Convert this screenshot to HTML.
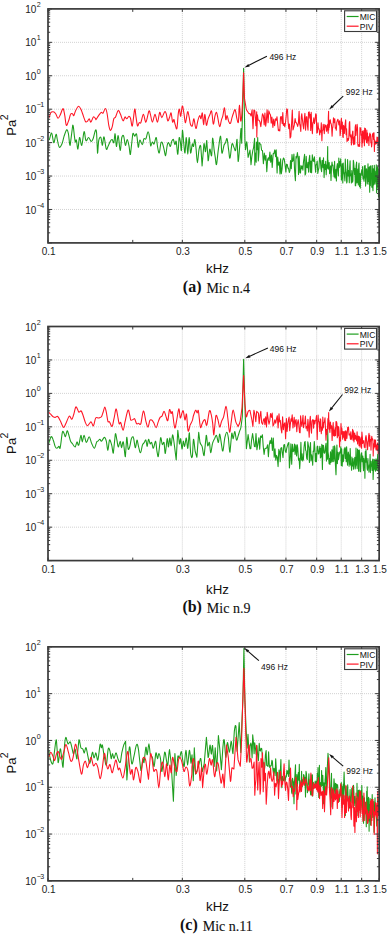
<!DOCTYPE html>
<html><head><meta charset="utf-8"><style>
html,body{margin:0;padding:0;background:#fff;width:388px;height:934px;overflow:hidden}
svg{font-family:"Liberation Sans",sans-serif}
</style></head><body>
<svg width="388" height="934" viewBox="0 0 388 934" style="position:absolute;left:0;top:0">
<rect width="388" height="934" fill="#fff"/>
<path d="M48.0,209.47H379.1M48.0,176.04H379.1M48.0,142.61H379.1M48.0,109.19H379.1M48.0,75.76H379.1M48.0,42.33H379.1M182.34,8.9V242.9M244.81,8.9V242.9M285.95,8.9V242.9M316.68,8.9V242.9M341.22,8.9V242.9M361.65,8.9V242.9" stroke="#c6c6c6" stroke-width="0.9" stroke-dasharray="0.9,1.1" fill="none"/>
<clipPath id="c0"><rect x="48.0" y="8.9" width="331.15" height="234.0"/></clipPath>
<path clip-path="url(#c0)" d="M49.3,140.1C49.7,138.9 50.9,132.6 51.6,133.0C52.4,133.4 53.1,142.5 53.8,142.7C54.5,142.9 55.4,134.8 56.0,134.3C56.6,133.8 56.8,137.3 57.3,139.5C57.8,141.7 58.5,146.4 59.3,147.2C60.1,147.9 61.1,145.8 61.9,144.0C62.7,142.2 63.3,138.6 64.1,136.2C64.9,133.8 66.0,130.2 66.7,129.8C67.4,129.4 67.8,131.1 68.4,133.7C69.0,136.3 69.5,146.7 70.2,145.3L72.7,125.3C73.4,123.8 74.0,133.4 74.4,136.2C74.8,139.0 75.0,141.3 75.3,142.0C75.6,142.7 76.0,138.9 76.4,140.1C76.8,141.3 77.4,149.5 77.9,149.1C78.4,148.7 78.9,138.1 79.6,137.5C80.2,136.9 81.0,146.3 81.8,145.3C82.5,144.3 83.4,132.5 84.1,131.7C84.8,130.9 85.2,139.7 86.0,140.7C86.8,141.7 87.7,137.4 88.6,137.5C89.5,137.6 90.5,141.2 91.2,141.4C92.0,141.6 92.4,140.6 93.1,138.8C93.8,137.0 94.8,131.4 95.4,130.4C96.0,129.4 96.2,129.2 96.6,133.0L97.5,153.0C97.9,154.2 98.2,142.7 98.8,140.1C99.4,137.5 100.3,136.6 100.9,137.5C101.5,138.4 101.9,145.4 102.4,145.3C102.9,145.2 103.3,136.3 104.0,136.9C104.7,137.5 105.6,147.6 106.3,149.1C107.0,150.6 107.5,147.2 108.2,145.9C108.9,144.6 109.6,142.5 110.2,141.4C110.8,140.3 111.5,139.3 112.1,139.5C112.7,139.7 113.3,143.7 113.8,142.7C114.3,141.7 114.7,133.1 115.1,133.7C115.5,134.3 115.9,146.2 116.4,146.5C116.9,146.8 117.6,134.9 118.2,135.6C118.8,136.2 119.6,150.1 120.2,150.4C120.8,150.7 121.2,139.9 121.8,137.5C122.4,135.1 123.1,134.9 123.7,136.2C124.3,137.5 124.8,144.8 125.4,145.3C126.0,145.9 126.6,139.5 127.2,139.5C127.8,139.5 128.3,142.8 128.9,145.3C129.5,147.8 129.9,156.1 130.5,154.3L132.7,134.3C133.4,131.3 134.0,136.2 134.7,136.2C135.3,136.2 136.0,132.5 136.6,134.3C137.2,136.1 137.8,146.2 138.3,147.2C138.8,148.2 139.1,140.5 139.8,140.1C140.5,139.7 141.7,144.8 142.4,144.6C143.1,144.4 143.3,139.8 143.9,138.8C144.5,137.8 145.2,140.0 145.9,138.8C146.6,137.6 147.4,131.7 148.1,131.7C148.8,131.7 149.4,136.4 149.8,138.8C150.2,141.2 150.3,145.4 150.7,145.9C151.1,146.4 151.8,142.3 152.4,142.0C153.0,141.7 153.5,144.8 154.1,144.0C154.7,143.2 155.6,137.1 156.2,137.5C156.8,137.9 157.0,143.9 157.5,146.5C158.0,149.1 158.6,153.5 159.2,153.0C159.8,152.5 160.3,145.0 160.8,143.3C161.3,141.6 161.8,141.7 162.3,142.7C162.8,143.7 163.4,146.9 164.0,149.1C164.6,151.2 165.1,156.2 165.6,155.6C166.1,155.0 166.7,147.5 167.2,145.3C167.7,143.2 168.2,142.5 168.7,142.7C169.2,142.9 169.9,146.7 170.4,146.5C170.9,146.3 171.2,142.6 171.7,141.4C172.2,140.2 172.9,139.0 173.4,139.5C173.9,140.0 174.4,144.3 174.9,144.6C175.4,144.9 175.7,139.8 176.2,141.4C176.7,143.0 177.3,154.8 177.8,154.3C178.3,153.8 178.7,140.3 179.1,138.2C179.5,136.0 179.9,139.4 180.3,141.4C180.7,143.4 181.1,152.2 181.4,150.4L182.4,130.4C182.8,129.1 183.3,138.9 183.7,142.7C184.1,146.5 184.6,153.9 185.0,153.0C185.4,152.1 185.8,137.3 186.3,137.5C186.8,137.7 187.3,154.3 187.8,154.3C188.3,154.3 188.6,137.7 189.1,137.5C189.6,137.3 190.1,151.9 190.6,153.0C191.1,154.1 191.8,145.1 192.3,144.0C192.8,142.9 193.1,147.2 193.5,146.5C193.9,145.8 194.4,139.1 194.8,139.5C195.2,139.9 195.7,145.2 196.1,149.1C196.5,153.0 196.9,162.7 197.4,162.7C197.9,162.7 198.5,151.8 199.1,149.1C199.7,146.4 200.3,143.7 200.8,146.5L202.1,165.9L203.9,144.0C204.5,141.6 205.0,152.2 205.5,151.7C206.0,151.1 206.4,139.2 206.8,140.7L208.1,160.7C208.6,162.1 209.2,149.9 209.8,149.1C210.4,148.2 211.1,157.4 211.6,155.6C212.1,153.8 212.2,139.1 212.6,138.2C213.0,137.3 213.8,147.3 214.2,150.4C214.6,153.5 214.8,154.5 215.2,156.9C215.6,159.3 216.0,165.9 216.5,164.6C217.0,163.3 217.7,153.8 218.4,149.1C219.1,144.4 220.0,135.5 220.6,136.2C221.2,136.8 221.3,151.5 221.9,153.0C222.5,154.5 223.4,147.0 224.0,145.3C224.6,143.6 225.0,143.8 225.5,142.7C226.0,141.6 226.6,137.5 227.1,138.8C227.6,140.1 228.2,147.2 228.7,150.4C229.2,153.6 229.4,159.2 230.0,158.1C230.6,157.0 231.3,145.8 232.0,144.0C232.7,142.2 233.3,146.1 233.9,147.2C234.5,148.3 235.1,151.7 235.6,150.4C236.1,149.1 236.7,137.7 237.1,139.5L238.1,161.4C238.5,162.6 239.2,152.0 239.7,146.5C240.2,141.0 240.7,129.0 241.0,128.5L241.7,143.3L243.6,68.3L244.9,139.5L245.5,149.7C245.8,150.1 246.4,140.7 246.8,142.0C247.2,143.3 247.9,154.8 248.1,157.4L250.0,150.1 L251.0,164.7 L251.8,156.9 L252.8,150.6 L253.6,147.6 L254.6,138.3 L254.8,165.1 L255.4,153.0 L256.2,162.3 L256.4,142.0 L257.3,149.7 L257.7,137.5 L258.3,161.0 L259.0,152.3 L259.2,142.5 L260.1,143.8 L260.8,144.4 L261.6,150.2 L262.5,150.5 L263.4,163.6 L264.3,153.1 L265.2,160.3 L265.9,155.3 L266.8,171.7 L267.6,159.5 L268.4,157.7 L269.1,160.6 L269.9,152.1 L270.7,162.3 L271.5,155.0 L272.2,167.5 L273.2,153.5 L273.9,153.6 L274.8,149.9 L275.6,156.6 L276.2,149.9 L277.1,172.9 L277.7,157.0 L278.6,165.3 L279.3,162.0 L280.0,173.9 L280.6,158.8 L281.3,173.8 L282.1,168.9 L282.7,160.7 L283.5,158.0 L284.2,159.1 L285.0,164.4 L285.9,172.2 L286.5,164.3 L287.3,164.6 L288.0,168.3 L288.5,168.1 L289.3,172.5 L290.0,170.4 L290.5,160.6 L291.3,168.6 L292.0,154.6 L292.7,161.4 L293.4,159.7 L293.9,154.0 L294.6,170.6 L295.4,180.8 L296.0,156.5 L296.6,158.0 L297.4,152.5 L298.0,157.2 L298.5,174.5 L299.2,156.4 L299.9,172.7 L300.5,173.0 L301.0,165.5 L301.6,168.8 L302.3,166.0 L302.9,170.2 L303.5,161.6 L304.0,158.5 L304.6,154.4 L305.1,175.0 L305.7,173.6 L306.2,156.4 L306.9,167.5 L307.5,167.8 L308.0,162.4 L308.6,172.1 L309.1,159.7 L309.7,155.2 L310.4,172.5 L311.0,161.0 L311.6,172.8 L312.3,154.9 L312.7,158.2 L313.3,161.1 L313.8,161.4 L314.4,156.9 L315.0,164.5 L315.6,172.2 L316.1,165.0 L316.6,163.9 L317.2,161.1 L317.8,173.4 L318.4,169.8 L318.9,168.2 L319.5,158.2 L320.0,157.3 L320.4,160.8 L321.0,168.7 L321.6,171.7 L322.0,160.7 L322.5,160.3 L323.0,167.7 L323.5,157.9 L324.1,177.6 L324.7,164.2 L325.3,169.5 L325.7,161.4 L326.2,174.8 L326.7,165.0 L327.3,167.5 L327.4,160.0 L327.7,146.6 L327.8,168.8 L328.0,160.0 L328.3,165.5 L328.7,169.1 L329.2,162.6 L329.6,173.8 L330.1,169.6 L330.6,165.8 L331.0,180.4 L331.5,167.9 L332.0,162.0 L332.4,165.5 L332.9,165.1 L333.3,169.6 L333.7,173.5 L334.1,177.0 L334.6,161.4 L335.1,178.1 L335.5,173.2 L336.0,169.3 L336.4,181.0 L336.9,166.5 L337.4,163.5 L337.9,170.3 L338.4,176.0 L338.8,158.0 L339.3,167.7 L339.8,161.5 L340.2,165.9 L340.7,158.9 L341.0,165.8 L341.4,180.1 L341.9,173.9 L342.2,163.9 L342.8,183.0 L343.2,163.1 L343.7,173.0 L344.0,172.6 L344.4,174.9 L344.9,181.0 L345.3,159.0 L345.7,169.4 L346.2,172.8 L346.7,183.0 L347.1,181.7 L347.6,159.6 L348.1,175.9 L348.4,170.2 L348.9,173.4 L349.3,182.8 L349.7,167.2 L350.1,160.7 L350.4,175.8 L350.9,174.0 L351.4,183.0 L351.8,170.6 L352.1,175.2 L352.6,182.2 L352.9,180.4 L353.3,160.4 L353.7,162.4 L354.1,168.8 L354.5,174.5 L354.9,168.2 L355.3,185.8 L355.7,185.8 L356.1,165.8 L356.6,162.0 L356.9,182.9 L357.4,181.9 L357.9,169.1 L358.3,184.9 L358.7,166.0 L359.0,163.0 L359.5,186.5 L359.9,173.6 L360.3,188.1 L360.7,177.1 L361.1,173.2 L361.4,172.2 L361.8,169.9 L362.2,175.2 L362.6,166.5 L363.0,178.9 L363.3,176.0 L363.7,177.2 L364.0,181.2 L364.4,165.7 L364.8,177.9 L365.2,165.5 L365.6,186.1 L365.9,176.4 L366.3,168.7 L366.6,169.1 L367.1,179.7 L367.3,184.0 L367.7,173.5 L368.0,163.7 L368.3,181.5 L368.6,167.7 L369.0,184.3 L369.3,167.0 L369.7,192.2 L370.1,166.4 L370.4,185.6 L370.8,165.7 L371.1,178.0 L371.5,173.9 L371.8,187.2 L372.3,165.5 L372.6,185.6 L373.0,190.6 L373.3,168.7 L373.7,185.0 L374.0,180.7 L374.3,165.3 L374.6,174.4 L375.0,184.1 L375.3,181.6 L375.7,171.1 L376.0,181.2 L376.3,164.9 L376.6,192.8 L377.0,171.1 L377.2,174.0 L377.5,166.7 L377.9,188.1 L378.2,169.1 L378.5,197.0 L378.6,180.6 L378.9,183.3" stroke="#1e9e1e" stroke-width="1.08" fill="none" stroke-linejoin="round"/>
<path clip-path="url(#c0)" d="M49.3,117.6C49.5,116.8 50.0,114.0 50.6,113.0C51.2,112.0 52.4,111.7 53.2,111.8C54.1,111.9 54.9,112.6 55.7,113.7C56.5,114.8 57.2,118.0 58.0,118.2C58.8,118.4 59.5,116.4 60.2,115.0C60.9,113.6 61.7,110.8 62.2,109.8C62.8,108.8 63.1,108.2 63.5,109.2C63.9,110.2 64.3,112.9 64.8,115.6C65.3,118.3 65.7,124.4 66.3,125.3C66.9,126.2 67.9,122.6 68.6,120.8C69.3,119.0 69.9,115.5 70.6,114.3C71.2,113.1 72.0,113.5 72.5,113.7C73.0,113.9 73.3,116.1 73.8,115.6C74.3,115.1 74.9,112.0 75.7,110.5C76.5,109.0 77.6,106.5 78.5,106.3C79.4,106.1 80.2,107.9 80.9,109.2C81.6,110.5 82.0,112.3 82.8,114.3C83.5,116.3 84.7,120.2 85.4,121.4C86.2,122.6 86.7,121.8 87.3,121.4C87.9,121.0 88.6,118.7 89.2,118.8C89.8,118.9 90.2,122.4 90.9,122.1C91.6,121.8 92.6,117.5 93.4,116.9C94.2,116.4 95.3,118.4 95.7,118.8C96.1,119.2 95.5,120.0 96.0,119.5C96.5,119.0 97.7,116.8 98.6,115.6C99.5,114.4 100.5,112.8 101.2,112.4C102.0,112.0 102.4,113.7 103.1,113.0C103.8,112.3 104.6,108.5 105.3,108.5C106.0,108.5 106.4,110.1 107.0,113.0C107.6,115.9 108.3,123.0 108.9,125.9C109.5,128.8 109.9,130.2 110.4,130.4C110.9,130.6 111.5,129.1 112.1,127.2C112.7,125.3 113.2,120.5 113.8,118.8C114.4,117.1 114.9,118.3 115.6,116.9C116.3,115.5 117.4,110.9 118.2,110.5C119.0,110.1 119.7,112.6 120.5,114.3C121.3,116.0 122.3,120.4 123.1,120.8C123.8,121.2 124.4,117.2 125.0,116.9C125.6,116.6 126.0,118.9 126.7,118.8C127.4,118.7 128.3,116.4 128.9,116.3C129.5,116.2 129.9,116.6 130.5,118.2C131.1,119.8 131.6,127.4 132.3,125.9C133.0,124.4 134.1,110.7 134.7,109.2C135.3,107.7 135.5,114.1 136.0,116.9C136.5,119.7 137.0,124.9 137.5,125.9C138.0,126.9 138.6,123.2 139.2,122.7C139.8,122.2 140.1,124.1 140.8,122.7C141.5,121.3 142.6,114.4 143.4,114.3C144.2,114.2 145.0,122.6 145.9,122.1C146.8,121.6 148.2,112.4 148.9,111.1C149.7,109.8 149.8,112.5 150.4,114.3C151.0,116.1 151.6,122.1 152.4,122.1C153.2,122.1 154.2,114.3 155.0,114.3C155.8,114.3 156.7,122.4 157.5,122.1C158.3,121.8 159.0,113.2 159.7,112.4C160.4,111.7 161.0,117.7 161.8,117.6C162.6,117.5 163.9,112.4 164.6,111.8C165.3,111.2 165.7,112.2 166.2,113.7C166.7,115.2 167.2,120.2 167.8,120.8C168.4,121.4 168.9,118.9 169.5,117.6C170.1,116.3 170.6,112.2 171.1,113.0C171.6,113.8 172.1,121.0 172.6,122.1C173.1,123.2 173.5,119.1 173.9,119.5C174.3,119.9 174.7,123.1 175.2,124.6C175.7,126.1 176.4,130.2 176.9,128.5C177.4,126.8 177.8,117.5 178.2,114.3C178.6,111.1 179.0,108.9 179.4,109.2C179.8,109.5 180.2,116.8 180.7,116.3C181.2,115.8 181.8,106.4 182.3,106.0C182.9,105.6 183.5,110.9 184.0,113.7C184.5,116.5 184.9,123.0 185.5,122.7C186.1,122.4 187.0,112.8 187.6,111.8C188.2,110.8 188.6,114.9 189.1,116.9C189.6,118.9 189.9,122.5 190.4,124.0C190.9,125.5 191.7,126.8 192.3,125.9C192.9,125.0 193.3,118.4 193.9,118.8C194.5,119.2 195.2,128.2 195.9,128.5C196.6,128.8 197.2,123.0 197.8,120.8C198.4,118.6 199.2,115.9 199.7,115.6C200.2,115.3 200.6,119.2 201.0,118.8C201.4,118.4 201.9,112.0 202.3,113.0C202.7,114.0 203.2,124.4 203.6,124.6C204.0,124.8 204.4,114.2 204.9,114.3C205.4,114.4 205.9,124.5 206.4,125.3C206.9,126.0 207.5,120.6 208.1,118.8C208.7,117.0 209.4,115.6 210.0,114.3C210.6,113.0 211.0,109.5 211.6,111.1C212.2,112.7 212.8,123.1 213.3,124.0C213.9,124.9 214.4,118.2 214.9,116.3C215.4,114.4 216.0,112.0 216.5,112.4C217.0,112.8 217.5,116.4 218.0,118.8C218.5,121.2 219.1,126.4 219.7,126.6C220.3,126.8 220.9,121.9 221.4,120.1C221.9,118.3 222.4,117.6 222.9,115.6C223.4,113.6 224.0,107.2 224.5,107.9C225.0,108.6 225.4,118.2 225.8,119.5C226.2,120.8 226.6,115.3 227.1,115.6C227.6,115.9 228.1,120.1 228.7,121.4C229.2,122.7 229.8,124.0 230.4,123.4C231.0,122.8 231.5,119.3 232.0,117.6C232.5,115.9 233.0,114.3 233.5,113.0C234.0,111.7 234.6,108.9 235.2,109.8C235.8,110.7 236.3,116.2 236.8,118.2C237.3,120.2 238.0,124.2 238.4,122.1C238.8,119.9 239.0,105.5 239.4,105.3C239.8,105.1 240.3,119.4 240.7,120.8C241.1,122.2 241.5,118.6 241.9,113.8L243.0,92.0L243.6,72.8L244.5,98.5L246.2,108.7C246.7,110.8 247.0,110.5 247.5,111.3C248.0,112.1 248.8,113.4 249.1,113.8L250.0,113.6 L251.1,115.9 L252.1,109.9 L253.0,128.8 L253.9,110.0 L254.8,110.7 L255.9,125.7 L256.7,111.8 L256.8,136.9 L257.4,114.7 L258.1,119.9 L259.1,120.2 L260.0,122.1 L260.8,126.7 L261.7,119.9 L262.5,113.7 L263.4,115.7 L264.2,124.9 L264.9,113.0 L265.7,126.2 L266.4,120.1 L267.1,109.8 L268.1,122.8 L268.8,110.8 L269.7,113.5 L270.5,114.9 L271.2,123.3 L271.9,117.0 L272.9,127.4 L273.7,119.1 L274.6,125.7 L275.5,118.9 L276.4,120.3 L277.0,116.7 L277.7,124.3 L278.4,130.6 L279.2,129.7 L279.8,131.0 L280.5,117.0 L281.3,116.6 L282.2,123.8 L282.8,112.5 L283.4,125.4 L284.2,123.6 L284.8,126.8 L285.4,123.2 L286.2,115.8 L286.8,108.7 L287.5,109.7 L288.1,121.9 L288.8,128.8 L289.5,124.0 L290.1,138.0 L290.8,136.8 L291.5,125.6 L292.3,110.0 L293.0,129.9 L293.7,127.5 L294.3,124.9 L295.1,118.6 L295.8,122.5 L296.4,122.8 L297.0,124.2 L297.7,126.4 L298.4,123.0 L299.1,111.3 L299.6,123.6 L300.2,126.0 L300.8,131.4 L301.3,116.8 L301.8,113.7 L302.5,120.3 L303.1,125.6 L303.7,129.0 L304.3,119.2 L304.9,113.4 L305.6,130.2 L306.3,116.9 L306.9,116.9 L307.4,125.2 L308.0,130.3 L308.5,112.5 L309.2,111.8 L309.8,118.2 L310.3,114.2 L310.7,130.4 L311.2,112.2 L311.8,125.9 L312.4,133.6 L312.9,122.5 L313.3,122.5 L313.8,117.9 L314.4,123.7 L315.0,120.9 L315.7,113.9 L316.3,114.9 L316.8,133.0 L317.4,132.4 L318.0,122.9 L318.5,128.9 L319.1,128.9 L319.7,135.0 L320.2,130.7 L320.8,132.1 L321.3,122.7 L321.9,140.8 L322.3,130.6 L322.8,130.3 L323.2,124.4 L323.8,128.1 L324.3,133.6 L324.8,124.6 L325.3,126.9 L325.9,125.2 L326.4,131.1 L326.8,131.1 L327.3,125.5 L327.8,124.1 L328.2,133.3 L328.3,118.0 L328.6,111.3 L328.7,129.9 L328.9,120.0 L329.2,127.7 L329.7,122.4 L330.3,119.7 L330.7,122.9 L331.2,123.9 L331.6,126.7 L332.1,136.1 L332.5,128.2 L332.9,127.1 L333.5,117.8 L333.9,119.3 L334.3,122.8 L334.8,118.8 L335.3,128.1 L335.8,127.7 L336.3,130.3 L336.8,122.4 L337.3,120.6 L337.9,119.2 L338.4,121.7 L338.9,124.9 L339.3,124.7 L339.6,120.9 L340.1,135.7 L340.6,131.8 L341.1,121.1 L341.4,118.4 L341.9,128.9 L342.3,122.1 L342.8,136.7 L343.2,137.5 L343.6,125.3 L344.1,127.6 L344.4,133.4 L344.8,128.6 L345.2,123.5 L345.7,119.9 L346.1,134.8 L346.6,128.7 L347.0,141.5 L347.4,140.2 L347.9,138.5 L348.3,140.4 L348.8,138.2 L349.3,122.8 L349.7,121.6 L350.1,135.9 L350.6,137.0 L351.0,134.9 L351.4,144.9 L351.9,139.5 L352.2,136.3 L352.6,131.5 L352.9,131.1 L353.3,143.2 L353.7,144.7 L354.2,137.4 L354.5,136.5 L354.8,144.1 L355.2,127.1 L355.6,124.8 L356.0,135.4 L356.4,130.1 L356.8,130.2 L357.1,124.3 L357.5,127.6 L357.8,144.2 L358.2,146.3 L358.5,144.5 L358.9,146.1 L359.2,145.4 L359.6,146.4 L360.0,127.5 L360.4,129.6 L360.8,128.0 L361.2,135.3 L361.6,134.7 L362.0,147.1 L362.4,131.0 L362.8,142.7 L363.1,132.0 L363.5,138.8 L363.9,130.5 L364.4,145.7 L364.7,128.1 L365.0,139.8 L365.4,128.6 L365.8,138.5 L366.1,137.1 L366.5,142.5 L366.8,130.1 L367.2,143.1 L367.5,133.1 L367.8,141.0 L368.2,139.0 L368.6,136.7 L368.9,145.5 L369.2,139.5 L369.6,134.5 L369.9,133.0 L370.1,134.8 L370.5,134.4 L370.9,142.8 L371.2,142.5 L371.6,146.9 L371.9,144.3 L372.2,136.7 L372.6,133.9 L372.9,136.1 L373.3,133.0 L373.6,139.5 L374.0,132.7 L374.4,151.4 L374.7,140.0 L375.1,144.4 L375.4,144.1 L375.7,143.2 L376.0,141.3 L376.4,141.6 L376.7,143.7 L377.0,137.0 L377.4,142.0 L377.8,142.9 L378.1,137.3 L378.5,145.4 L378.9,146.0" stroke="#ff1525" stroke-width="1.08" fill="none" stroke-linejoin="round"/>
<path d="M48.0,242.90h4M379.1,242.90h-4M48.0,232.84h2.2M379.1,232.84h-2.2M48.0,226.95h2.2M379.1,226.95h-2.2M48.0,222.77h2.2M379.1,222.77h-2.2M48.0,219.53h2.2M379.1,219.53h-2.2M48.0,216.89h2.2M379.1,216.89h-2.2M48.0,214.65h2.2M379.1,214.65h-2.2M48.0,212.71h2.2M379.1,212.71h-2.2M48.0,211.00h2.2M379.1,211.00h-2.2M48.0,209.47h4M379.1,209.47h-4M48.0,199.41h2.2M379.1,199.41h-2.2M48.0,193.52h2.2M379.1,193.52h-2.2M48.0,189.35h2.2M379.1,189.35h-2.2M48.0,186.11h2.2M379.1,186.11h-2.2M48.0,183.46h2.2M379.1,183.46h-2.2M48.0,181.22h2.2M379.1,181.22h-2.2M48.0,179.28h2.2M379.1,179.28h-2.2M48.0,177.57h2.2M379.1,177.57h-2.2M48.0,176.04h4M379.1,176.04h-4M48.0,165.98h2.2M379.1,165.98h-2.2M48.0,160.09h2.2M379.1,160.09h-2.2M48.0,155.92h2.2M379.1,155.92h-2.2M48.0,152.68h2.2M379.1,152.68h-2.2M48.0,150.03h2.2M379.1,150.03h-2.2M48.0,147.79h2.2M379.1,147.79h-2.2M48.0,145.85h2.2M379.1,145.85h-2.2M48.0,144.14h2.2M379.1,144.14h-2.2M48.0,142.61h4M379.1,142.61h-4M48.0,132.55h2.2M379.1,132.55h-2.2M48.0,126.66h2.2M379.1,126.66h-2.2M48.0,122.49h2.2M379.1,122.49h-2.2M48.0,119.25h2.2M379.1,119.25h-2.2M48.0,116.60h2.2M379.1,116.60h-2.2M48.0,114.36h2.2M379.1,114.36h-2.2M48.0,112.43h2.2M379.1,112.43h-2.2M48.0,110.72h2.2M379.1,110.72h-2.2M48.0,109.19h4M379.1,109.19h-4M48.0,99.12h2.2M379.1,99.12h-2.2M48.0,93.24h2.2M379.1,93.24h-2.2M48.0,89.06h2.2M379.1,89.06h-2.2M48.0,85.82h2.2M379.1,85.82h-2.2M48.0,83.17h2.2M379.1,83.17h-2.2M48.0,80.94h2.2M379.1,80.94h-2.2M48.0,79.00h2.2M379.1,79.00h-2.2M48.0,77.29h2.2M379.1,77.29h-2.2M48.0,75.76h4M379.1,75.76h-4M48.0,65.69h2.2M379.1,65.69h-2.2M48.0,59.81h2.2M379.1,59.81h-2.2M48.0,55.63h2.2M379.1,55.63h-2.2M48.0,52.39h2.2M379.1,52.39h-2.2M48.0,49.74h2.2M379.1,49.74h-2.2M48.0,47.51h2.2M379.1,47.51h-2.2M48.0,45.57h2.2M379.1,45.57h-2.2M48.0,43.86h2.2M379.1,43.86h-2.2M48.0,42.33h4M379.1,42.33h-4M48.0,32.27h2.2M379.1,32.27h-2.2M48.0,26.38h2.2M379.1,26.38h-2.2M48.0,22.20h2.2M379.1,22.20h-2.2M48.0,18.96h2.2M379.1,18.96h-2.2M48.0,16.32h2.2M379.1,16.32h-2.2M48.0,14.08h2.2M379.1,14.08h-2.2M48.0,12.14h2.2M379.1,12.14h-2.2M48.0,10.43h2.2M379.1,10.43h-2.2M48.0,8.90h4M379.1,8.90h-4M48.00,242.9v-3M48.00,8.9v3M132.76,242.9v-3M132.76,8.9v3M182.34,242.9v-3M182.34,8.9v3M244.81,242.9v-3M244.81,8.9v3M285.95,242.9v-3M285.95,8.9v3M316.68,242.9v-3M316.68,8.9v3M341.22,242.9v-3M341.22,8.9v3M361.65,242.9v-3M361.65,8.9v3M379.15,242.9v-3M379.15,8.9v3" stroke="#3a3a3a" stroke-width="1" fill="none"/>
<rect x="48.0" y="8.9" width="331.15" height="234.00" fill="none" stroke="#3a3a3a" stroke-width="1.7"/>
<text x="25.25" y="12.9" font-size="10" fill="#222">10<tspan dx="0.3" dy="-6" font-size="7.1" letter-spacing="-0.6">2</tspan></text>
<text x="25.25" y="46.3" font-size="10" fill="#222">10<tspan dx="0.3" dy="-6" font-size="7.1" letter-spacing="-0.6">1</tspan></text>
<text x="25.25" y="79.8" font-size="10" fill="#222">10<tspan dx="0.3" dy="-6" font-size="7.1" letter-spacing="-0.6">0</tspan></text>
<text x="25.25" y="113.2" font-size="10" fill="#222">10<tspan dx="0.3" dy="-6" font-size="7.1" letter-spacing="-0.6">−1</tspan></text>
<text x="25.25" y="146.6" font-size="10" fill="#222">10<tspan dx="0.3" dy="-6" font-size="7.1" letter-spacing="-0.6">−2</tspan></text>
<text x="25.25" y="180.0" font-size="10" fill="#222">10<tspan dx="0.3" dy="-6" font-size="7.1" letter-spacing="-0.6">−3</tspan></text>
<text x="25.25" y="213.5" font-size="10" fill="#222">10<tspan dx="0.3" dy="-6" font-size="7.1" letter-spacing="-0.6">−4</tspan></text>
<text x="48.6" y="255.3" font-size="10" text-anchor="middle" fill="#222">0.1</text>
<text x="182.9" y="255.3" font-size="10" text-anchor="middle" fill="#222">0.3</text>
<text x="245.4" y="255.3" font-size="10" text-anchor="middle" fill="#222">0.5</text>
<text x="286.6" y="255.3" font-size="10" text-anchor="middle" fill="#222">0.7</text>
<text x="317.3" y="255.3" font-size="10" text-anchor="middle" fill="#222">0.9</text>
<text x="341.8" y="255.3" font-size="10" text-anchor="middle" fill="#222">1.1</text>
<text x="362.3" y="255.3" font-size="10" text-anchor="middle" fill="#222">1.3</text>
<text x="379.8" y="255.3" font-size="10" text-anchor="middle" fill="#222">1.5</text>
<text x="217.5" y="272.8" font-size="13.3" text-anchor="middle" fill="#111">kHz</text>
<text x="216.4" y="293.1" font-size="14" letter-spacing="0" text-anchor="middle" fill="#111" font-family="Liberation Serif, serif"><tspan font-weight="bold" font-size="16" letter-spacing="0" dy="-0.8">(a)</tspan><tspan dx="1.4" dy="0.8" stroke="#111" stroke-width="0.12"> Mic n.4</tspan></text>
<text transform="translate(15.8,135.7) rotate(-90)" font-size="13.2" fill="#111">Pa<tspan dx="-0.7" dy="-7.6" font-size="10.5">2</tspan></text>
<rect x="376.4" y="10.3" width="2.0" height="21.6" fill="#8a8a8a"/>
<rect x="344.6" y="10.8" width="31.9" height="20.7" fill="#fff" stroke="#3a3a3a" stroke-width="1.1"/>
<path d="M346.7,16.5H358.6" stroke="#1e9e1e" stroke-width="1.2"/>
<path d="M346.7,26.2H358.6" stroke="#ff1525" stroke-width="1.2"/>
<text x="359.7" y="20.1" font-size="8.6" fill="#111">MIC</text>
<text x="359.7" y="29.6" font-size="8.6" fill="#111">PIV</text>
<path d="M48.0,527.16H379.1M48.0,493.71H379.1M48.0,460.27H379.1M48.0,426.83H379.1M48.0,393.39H379.1M48.0,359.94H379.1M182.34,326.5V560.6M244.81,326.5V560.6M285.95,326.5V560.6M316.68,326.5V560.6M341.22,326.5V560.6M361.65,326.5V560.6" stroke="#c6c6c6" stroke-width="0.9" stroke-dasharray="0.9,1.1" fill="none"/>
<clipPath id="c1"><rect x="48.0" y="326.5" width="331.15" height="234.10000000000002"/></clipPath>
<path clip-path="url(#c1)" d="M48.6,443.8C49.0,442.6 50.4,437.3 51.2,436.7C52.0,436.1 52.6,438.4 53.2,440.0C53.9,441.6 54.5,445.0 55.1,446.4C55.7,447.8 56.1,448.3 56.8,448.3C57.4,448.3 58.4,446.5 59.0,446.4C59.6,446.3 59.6,450.1 60.2,447.7C60.8,445.3 61.8,434.6 62.4,432.2C63.0,429.8 63.6,432.8 64.1,433.5C64.6,434.2 64.9,437.1 65.4,436.7C65.9,436.3 66.6,431.4 67.1,430.9C67.6,430.4 67.8,431.8 68.4,433.5C69.0,435.2 69.9,439.5 70.6,441.2C71.3,442.9 71.8,442.8 72.5,443.8C73.2,444.8 74.3,447.3 75.1,447.0C75.8,446.7 76.4,442.2 77.0,441.9C77.6,441.6 78.0,446.2 78.7,445.1C79.4,444.0 80.3,435.9 80.9,435.4C81.5,434.9 81.7,441.9 82.2,441.9C82.7,441.9 83.4,435.3 84.1,435.4C84.8,435.5 85.6,442.3 86.4,442.5C87.2,442.7 88.3,436.6 89.2,436.7C90.1,436.8 90.7,441.3 91.6,443.2C92.5,445.1 93.6,448.5 94.4,448.3C95.2,448.1 96.1,443.1 96.7,441.9C97.3,440.7 97.4,441.6 97.9,441.2C98.4,440.8 99.3,439.3 99.9,439.3C100.5,439.3 100.7,441.5 101.4,441.2C102.2,440.9 103.6,437.4 104.4,437.4C105.2,437.4 105.7,439.0 106.3,441.2C106.9,443.4 107.4,450.5 107.9,450.3C108.4,450.1 108.9,440.9 109.5,440.0C110.1,439.1 111.0,443.0 111.7,445.1C112.4,447.2 112.8,454.6 113.4,452.8L115.3,434.1C115.9,432.0 116.4,437.9 116.9,440.0C117.4,442.1 117.7,446.8 118.2,447.0C118.8,447.2 119.7,441.1 120.2,441.2C120.8,441.3 121.0,447.6 121.5,447.7C122.0,447.8 122.6,440.4 123.3,441.9C124.0,443.4 124.8,457.4 125.4,456.7L126.7,437.4C127.2,436.1 127.7,447.5 128.2,449.0C128.7,450.5 129.3,448.1 129.8,446.4C130.3,444.7 130.8,440.2 131.4,438.7C132.0,437.2 132.8,435.9 133.4,437.4C134.1,438.9 134.7,447.3 135.3,447.7C135.9,448.1 136.5,440.2 137.0,440.0C137.5,439.8 137.9,444.3 138.5,446.4C139.1,448.5 139.8,453.0 140.5,452.8C141.2,452.6 141.8,446.8 142.4,445.1C143.0,443.4 143.7,443.4 144.3,442.5C144.9,441.6 145.4,439.4 145.9,440.0C146.4,440.6 146.8,446.5 147.2,446.4C147.6,446.3 148.0,439.7 148.5,439.3C149.0,438.9 149.7,443.3 150.2,443.8C150.7,444.3 151.2,441.8 151.7,442.5C152.2,443.2 152.7,448.5 153.3,448.3C154.0,448.1 155.0,440.8 155.6,441.2C156.2,441.6 156.4,448.4 156.9,450.9C157.4,453.4 157.8,458.2 158.4,456.1L160.5,438.0C161.2,436.1 161.7,443.8 162.3,444.5C162.9,445.2 163.5,441.0 164.0,442.5C164.5,444.0 164.8,454.1 165.3,453.5C165.8,452.9 166.7,439.8 167.2,438.7C167.7,437.6 168.1,447.1 168.5,447.0C168.9,446.9 169.4,438.2 169.8,438.0C170.2,437.8 170.6,446.2 171.1,445.7C171.6,445.2 172.1,435.0 172.6,434.8C173.1,434.6 173.7,440.3 174.3,444.5L176.2,459.9L177.8,430.3L179.4,443.8C179.9,445.2 180.3,437.8 180.7,438.7C181.1,439.6 181.6,448.6 182.0,449.0C182.4,449.4 182.9,441.6 183.3,441.2C183.7,440.8 184.1,446.9 184.6,446.4C185.1,445.9 185.8,437.7 186.3,438.0C186.8,438.3 187.3,449.2 187.8,448.3C188.3,447.4 188.9,432.1 189.4,432.9L190.6,452.8C191.1,456.8 191.8,458.9 192.3,456.7C192.8,454.4 193.0,440.2 193.5,439.3C194.0,438.4 194.6,448.5 195.2,451.5L196.9,457.3L198.7,432.2L200.0,442.5C200.6,444.9 201.4,444.2 202.1,446.4C202.8,448.5 203.5,457.2 204.2,455.4L206.2,435.4C206.8,433.8 207.2,444.5 207.7,445.7C208.2,446.9 208.9,441.3 209.4,442.5C209.9,443.7 210.2,452.7 210.7,452.8C211.2,452.9 211.9,445.6 212.6,443.2C213.2,440.8 213.9,440.0 214.6,438.7C215.2,437.4 215.9,434.8 216.5,435.4C217.1,436.0 217.9,442.7 218.4,442.5C218.9,442.3 219.2,433.9 219.7,434.1C220.2,434.3 220.9,441.0 221.4,443.8C221.9,446.6 222.3,452.0 222.9,450.9C223.5,449.8 224.2,440.5 224.9,437.4C225.6,434.3 226.2,432.2 226.8,432.2C227.4,432.2 227.8,434.1 228.3,437.4C228.8,440.7 229.4,452.8 230.0,452.2L231.7,433.5C232.2,431.2 232.7,439.0 233.2,438.7C233.7,438.4 234.2,431.4 234.8,431.6C235.4,431.8 235.9,439.2 236.5,440.0C237.1,440.8 237.6,437.6 238.1,436.1C238.6,434.6 239.2,432.4 239.7,430.9C240.2,429.4 240.6,429.4 241.0,427.0L242.3,416.7L243.6,359.2L244.9,405.0L245.5,421.8L246.4,448.7L248.1,434.6L250.0,448.6 L250.8,448.6 L251.5,440.6 L252.6,433.5 L253.5,439.9 L254.4,446.4 L255.2,446.7 L256.0,433.6 L256.9,449.8 L258.0,443.2 L258.9,437.7 L259.7,449.1 L260.6,436.1 L261.5,437.4 L262.4,434.8 L263.2,446.1 L264.1,454.4 L264.9,448.7 L265.8,448.2 L266.6,448.2 L267.6,444.8 L268.4,456.7 L269.2,445.4 L270.1,440.6 L270.9,443.5 L271.6,437.8 L272.4,450.4 L273.3,438.1 L274.2,457.2 L275.0,448.9 L275.8,460.2 L276.6,455.4 L277.3,457.1 L278.1,466.6 L278.8,449.4 L279.6,451.8 L280.2,461.7 L280.8,448.2 L281.7,447.6 L282.3,452.9 L283.0,457.7 L283.8,444.9 L284.6,444.6 L285.3,451.1 L286.0,452.6 L286.7,448.4 L287.4,445.8 L288.1,443.3 L288.8,442.5 L289.4,468.0 L290.2,458.4 L290.9,443.9 L291.7,464.2 L292.4,444.3 L293.1,451.6 L293.9,450.9 L294.5,444.1 L295.1,454.5 L295.9,444.7 L296.6,456.0 L297.3,444.9 L297.8,448.5 L298.5,460.3 L299.1,458.3 L299.7,468.8 L300.4,457.3 L300.9,442.4 L301.5,460.1 L302.1,453.7 L302.7,460.9 L303.4,459.6 L304.0,447.7 L304.6,442.2 L305.1,441.5 L305.6,450.3 L306.1,451.0 L306.7,458.2 L307.3,459.6 L307.8,441.9 L308.4,445.6 L308.9,447.7 L309.4,462.4 L309.9,451.4 L310.5,442.5 L311.0,460.9 L311.6,454.7 L312.2,458.7 L312.7,465.3 L313.2,451.0 L313.7,451.4 L314.3,441.5 L314.8,447.8 L315.4,461.8 L316.0,453.5 L316.5,461.6 L317.1,446.9 L317.7,446.1 L318.3,454.0 L318.8,453.6 L319.4,449.5 L319.9,446.2 L320.4,458.0 L320.9,448.3 L321.3,456.9 L321.8,444.4 L322.4,469.4 L322.9,445.2 L323.5,445.4 L324.0,452.7 L324.4,453.3 L324.9,452.3 L325.4,447.3 L326.0,443.4 L326.4,461.1 L327.0,456.6 L327.4,440.0 L327.5,459.1 L327.7,430.0 L328.0,440.0 L328.0,451.9 L328.5,455.4 L329.1,463.8 L329.6,458.5 L330.0,464.5 L330.5,451.8 L331.0,462.5 L331.5,457.1 L331.9,449.8 L332.3,461.8 L332.8,453.8 L333.2,446.2 L333.7,461.6 L334.2,458.7 L334.6,445.8 L335.0,448.3 L335.4,464.2 L336.0,474.7 L336.5,456.1 L336.9,445.0 L337.4,463.6 L337.7,452.4 L338.2,452.5 L338.5,459.4 L339.1,455.6 L339.6,452.6 L340.0,451.6 L340.4,453.0 L340.8,446.8 L341.3,465.4 L341.7,448.9 L342.2,466.1 L342.6,456.3 L342.9,454.9 L343.3,461.6 L343.8,456.6 L344.2,448.9 L344.6,453.1 L345.0,447.2 L345.3,458.5 L345.7,448.9 L346.2,461.7 L346.6,446.8 L347.1,454.8 L347.5,465.3 L347.9,457.7 L348.3,452.1 L348.6,453.3 L349.1,466.3 L349.5,455.0 L349.9,464.3 L350.2,448.5 L350.7,465.2 L351.2,464.5 L351.6,470.2 L351.9,457.1 L352.3,466.1 L352.7,465.4 L353.1,458.5 L353.5,469.3 L354.0,463.4 L354.4,461.5 L354.8,457.4 L355.2,468.9 L355.7,464.4 L356.0,448.1 L356.5,465.0 L356.8,464.1 L357.2,468.6 L357.5,449.1 L357.9,453.1 L358.2,450.2 L358.6,471.3 L359.0,451.2 L359.3,450.0 L359.8,455.6 L360.1,471.4 L360.6,471.8 L360.9,460.7 L361.3,453.9 L361.7,452.8 L362.1,461.7 L362.4,457.1 L362.8,456.0 L363.1,464.6 L363.5,470.6 L363.8,458.3 L364.2,461.3 L364.6,464.3 L364.9,478.2 L365.3,451.5 L365.7,462.2 L366.0,449.5 L366.4,458.9 L366.8,462.8 L367.2,468.9 L367.5,470.3 L367.9,458.6 L368.2,467.7 L368.6,466.6 L369.0,472.1 L369.3,464.9 L369.7,465.8 L370.1,454.3 L370.4,472.6 L370.7,463.9 L371.0,461.3 L371.4,466.3 L371.7,464.4 L372.1,470.5 L372.4,461.0 L372.8,459.0 L373.1,479.5 L373.5,469.2 L373.7,465.9 L374.1,459.3 L374.4,469.3 L374.8,460.4 L375.2,470.8 L375.5,471.1 L375.8,464.8 L376.0,458.9 L376.4,462.4 L376.7,470.3 L377.0,463.9 L377.3,462.0 L377.7,454.4 L378.1,471.0 L378.4,465.3 L378.8,473.2" stroke="#1e9e1e" stroke-width="1.08" fill="none" stroke-linejoin="round"/>
<path clip-path="url(#c1)" d="M48.6,412.2C48.9,412.5 49.8,413.4 50.6,414.2C51.4,415.0 52.5,416.3 53.2,416.8C54.0,417.3 54.4,417.4 55.1,417.4C55.9,417.3 56.9,416.0 57.7,416.5C58.6,417.0 59.4,419.0 60.2,420.6C61.1,422.2 62.1,425.3 62.8,426.4C63.4,427.5 63.6,427.6 64.1,427.1C64.6,426.6 65.1,425.0 66.0,423.2C66.9,421.4 68.3,416.8 69.3,416.1C70.3,415.5 71.0,419.6 71.8,419.3C72.5,419.0 73.1,416.2 73.8,414.2C74.5,412.2 75.1,408.0 75.7,407.1C76.3,406.2 76.9,408.1 77.4,409.0C77.9,409.9 78.3,411.9 78.9,412.2C79.5,412.5 80.5,410.4 81.2,411.0C81.9,411.6 82.4,413.6 83.1,415.5C83.8,417.4 84.7,420.9 85.4,422.6C86.1,424.3 86.7,425.6 87.3,425.8C87.9,426.0 88.5,424.5 89.2,423.8C89.9,423.1 90.5,421.6 91.2,421.9C91.9,422.2 92.7,426.4 93.4,425.8C94.2,425.2 94.8,419.3 95.7,418.0C96.6,416.7 97.6,418.2 98.6,418.0C99.5,417.8 100.7,417.8 101.4,416.8C102.2,415.8 102.5,413.8 103.1,412.2C103.7,410.6 104.3,407.1 104.8,407.1C105.3,407.1 105.8,409.8 106.3,412.2C106.8,414.6 107.4,419.7 107.9,421.3C108.4,422.9 108.8,421.0 109.5,421.9C110.2,422.8 111.3,426.9 112.1,426.4C112.8,425.9 113.3,421.6 114.0,418.7C114.7,415.8 115.4,409.5 116.0,409.0C116.6,408.5 117.1,413.0 117.6,415.5C118.1,418.0 118.7,422.6 119.2,423.8C119.7,425.0 120.1,421.5 120.7,422.6C121.3,423.7 122.4,430.4 123.1,430.3C123.8,430.2 124.2,425.3 125.0,421.9C125.8,418.5 127.2,411.2 128.0,410.1C128.8,409.0 129.3,413.9 129.8,415.5C130.3,417.1 130.2,419.4 130.8,420.0C131.4,420.6 132.8,419.5 133.4,419.3C134.1,419.1 134.2,417.9 134.7,418.7C135.2,419.4 136.0,423.1 136.6,423.8C137.2,424.6 137.8,423.2 138.5,423.2C139.2,423.2 140.0,425.8 140.8,423.8C141.6,421.8 142.6,411.4 143.4,411.0C144.2,410.6 145.2,418.6 145.9,421.3C146.7,424.0 147.2,427.2 147.9,427.1C148.6,427.0 149.2,421.8 149.8,420.6C150.4,419.4 151.0,419.7 151.7,420.0C152.3,420.3 152.9,421.3 153.7,422.6C154.4,423.9 155.4,427.8 156.2,427.7C156.9,427.6 157.5,423.6 158.2,421.9C158.8,420.2 159.5,418.4 160.1,417.4C160.7,416.4 161.3,417.1 162.0,416.1C162.7,415.1 163.3,411.3 164.0,411.3C164.7,411.3 165.3,414.6 165.9,416.1C166.5,417.7 167.2,421.7 167.8,420.6C168.4,419.5 168.9,410.9 169.5,409.7C170.1,408.5 170.6,413.1 171.1,413.5C171.6,413.9 171.8,409.8 172.4,412.2C173.0,414.6 174.0,426.2 174.7,427.7C175.4,429.2 175.8,424.4 176.5,421.3C177.2,418.2 178.2,409.4 178.8,408.8C179.4,408.2 179.8,417.3 180.3,418.0C180.8,418.7 181.5,414.1 182.0,412.9C182.5,411.7 182.8,409.8 183.3,411.0C183.8,412.2 184.5,419.5 185.0,420.0C185.5,420.5 186.0,412.4 186.5,414.2C187.0,416.0 187.5,429.1 188.1,430.9C188.7,432.7 189.4,426.8 190.1,425.1C190.8,423.4 191.7,422.2 192.3,420.6C192.9,419.0 192.9,417.2 193.5,415.5C194.1,413.8 195.0,410.7 195.6,410.3C196.2,409.9 196.7,412.8 197.2,412.9C197.7,413.0 197.9,408.6 198.4,411.0C198.9,413.4 199.8,425.0 200.4,427.1C201.0,429.2 201.6,424.9 202.1,423.8C202.6,422.7 203.1,421.2 203.6,420.6C204.1,420.0 204.6,419.2 205.1,420.0C205.6,420.8 206.1,426.6 206.8,425.1C207.5,423.6 208.7,412.8 209.4,411.0C210.1,409.2 210.6,412.3 211.1,414.2C211.6,416.1 212.1,419.2 212.6,422.6C213.1,426.0 213.4,435.9 213.9,434.8L215.8,416.1C216.5,413.5 217.2,417.5 217.8,419.3C218.5,421.1 219.1,426.8 219.7,427.1C220.3,427.4 220.9,423.0 221.6,421.3C222.2,419.6 222.8,419.3 223.6,416.8C224.3,414.3 225.4,406.2 226.1,406.4C226.8,406.6 227.2,413.7 227.8,418.0C228.4,422.3 229.0,431.6 229.6,432.2C230.2,432.8 230.7,425.0 231.3,421.3C231.9,417.6 232.4,410.0 233.2,410.1C233.9,410.2 235.0,419.3 235.8,421.9C236.6,424.5 237.4,424.9 237.8,425.6C238.2,426.4 237.7,427.2 238.1,426.4C238.5,425.6 239.7,423.7 240.3,420.6L242.0,407.7L243.6,375.6L244.9,403.8L246.2,416.7C246.7,418.0 247.6,412.6 248.1,411.5C248.6,410.4 249.2,410.5 249.4,410.3L250.0,410.6 L251.0,415.5 L252.0,420.5 L252.9,426.5 L253.9,410.2 L254.7,413.3 L255.8,421.6 L256.7,411.2 L257.6,412.4 L258.4,412.9 L259.2,423.8 L260.0,415.7 L260.8,411.3 L261.6,422.4 L262.6,424.3 L263.5,419.7 L264.2,418.4 L264.9,424.8 L265.7,416.9 L266.5,427.0 L267.2,412.4 L268.2,419.3 L269.0,424.2 L269.8,420.9 L270.5,413.5 L271.4,417.3 L272.2,413.1 L273.0,425.9 L273.9,424.3 L274.8,419.8 L275.7,423.2 L276.4,419.4 L277.3,415.7 L278.1,428.0 L279.0,413.7 L279.7,421.9 L280.3,420.4 L281.1,429.2 L281.8,433.0 L282.6,416.8 L283.4,429.7 L284.1,424.2 L284.9,422.7 L285.6,438.7 L286.4,418.5 L287.1,431.4 L287.8,424.0 L288.6,419.2 L289.1,417.0 L289.7,430.7 L290.3,424.8 L291.0,418.8 L291.5,421.1 L292.2,414.8 L293.0,428.0 L293.5,422.5 L294.2,417.3 L294.8,426.8 L295.4,421.2 L296.1,419.5 L296.8,431.6 L297.4,423.5 L298.2,419.9 L298.8,424.6 L299.5,432.4 L300.1,432.7 L300.6,415.7 L301.3,422.7 L301.8,426.4 L302.4,421.7 L303.0,415.3 L303.5,427.7 L304.2,423.0 L304.7,423.7 L305.4,416.1 L306.0,428.1 L306.7,426.5 L307.3,430.9 L307.9,419.3 L308.5,426.4 L309.2,437.3 L309.7,422.2 L310.3,416.2 L311.0,429.0 L311.5,433.2 L312.0,421.2 L312.6,419.8 L313.1,419.7 L313.6,428.1 L314.1,420.2 L314.8,424.0 L315.4,420.4 L315.9,420.2 L316.5,415.6 L317.2,439.5 L317.6,427.0 L318.1,415.1 L318.5,421.1 L319.2,422.3 L319.8,431.4 L320.2,418.8 L320.7,419.7 L321.3,433.7 L321.7,427.0 L322.4,430.3 L322.8,417.0 L323.3,428.0 L323.9,422.7 L324.4,422.0 L325.0,417.8 L325.5,429.5 L326.0,440.1 L326.5,429.2 L326.9,434.4 L327.4,430.0 L327.9,418.8 L328.3,418.2 L328.4,420.0 L328.7,412.5 L328.8,429.1 L329.0,420.0 L329.4,426.8 L329.9,432.5 L330.4,422.1 L331.0,428.1 L331.6,425.8 L332.1,440.5 L332.6,430.3 L333.2,422.5 L333.6,435.7 L334.2,430.1 L334.7,436.2 L335.1,427.9 L335.6,435.5 L336.0,421.5 L336.5,421.7 L336.9,423.4 L337.3,437.8 L337.7,426.2 L338.2,436.0 L338.7,426.9 L339.1,431.4 L339.6,447.0 L340.0,437.5 L340.5,441.1 L341.0,423.5 L341.4,434.1 L341.8,428.0 L342.3,432.8 L342.7,439.2 L343.1,431.5 L343.6,437.2 L344.1,431.6 L344.6,439.4 L344.9,440.6 L345.3,430.9 L345.7,440.6 L346.1,431.1 L346.5,434.9 L346.9,438.5 L347.3,432.9 L347.7,427.4 L348.1,428.7 L348.5,427.0 L349.0,435.0 L349.5,433.9 L349.9,434.0 L350.4,439.2 L350.8,431.7 L351.1,439.6 L351.5,438.8 L351.8,437.1 L352.3,434.3 L352.6,429.2 L353.0,440.1 L353.3,430.7 L353.7,436.3 L354.0,442.0 L354.4,433.6 L354.7,433.0 L355.1,439.1 L355.5,435.2 L355.9,436.4 L356.2,439.2 L356.7,440.9 L357.1,431.7 L357.6,444.0 L357.9,436.9 L358.3,438.0 L358.6,436.1 L359.0,445.7 L359.3,436.6 L359.7,439.2 L360.1,447.1 L360.5,442.8 L360.9,438.0 L361.3,437.0 L361.6,448.2 L361.9,432.1 L362.4,437.8 L362.7,443.5 L363.1,441.4 L363.4,442.6 L363.8,440.6 L364.3,447.2 L364.7,445.9 L365.1,447.9 L365.5,438.2 L366.0,435.5 L366.3,437.4 L366.8,443.4 L367.2,447.9 L367.6,449.8 L367.9,441.9 L368.3,440.5 L368.7,435.5 L369.0,433.4 L369.3,446.3 L369.7,435.4 L370.0,441.1 L370.3,440.3 L370.6,439.6 L371.0,450.1 L371.4,439.2 L371.8,436.3 L372.2,440.0 L372.6,438.8 L372.9,439.9 L373.2,456.0 L373.5,443.8 L373.9,448.2 L374.2,446.8 L374.6,439.7 L374.9,441.2 L375.2,446.7 L375.5,440.1 L375.9,448.8 L376.2,450.2 L376.5,446.1 L376.8,444.9 L377.2,449.5 L377.5,443.0 L377.8,444.0 L378.2,453.7 L378.5,445.5 L378.7,450.2" stroke="#ff1525" stroke-width="1.08" fill="none" stroke-linejoin="round"/>
<path d="M48.0,560.60h4M379.1,560.60h-4M48.0,550.53h2.2M379.1,550.53h-2.2M48.0,544.64h2.2M379.1,544.64h-2.2M48.0,540.47h2.2M379.1,540.47h-2.2M48.0,537.22h2.2M379.1,537.22h-2.2M48.0,534.58h2.2M379.1,534.58h-2.2M48.0,532.34h2.2M379.1,532.34h-2.2M48.0,530.40h2.2M379.1,530.40h-2.2M48.0,528.69h2.2M379.1,528.69h-2.2M48.0,527.16h4M379.1,527.16h-4M48.0,517.09h2.2M379.1,517.09h-2.2M48.0,511.20h2.2M379.1,511.20h-2.2M48.0,507.02h2.2M379.1,507.02h-2.2M48.0,503.78h2.2M379.1,503.78h-2.2M48.0,501.13h2.2M379.1,501.13h-2.2M48.0,498.89h2.2M379.1,498.89h-2.2M48.0,496.96h2.2M379.1,496.96h-2.2M48.0,495.24h2.2M379.1,495.24h-2.2M48.0,493.71h4M379.1,493.71h-4M48.0,483.65h2.2M379.1,483.65h-2.2M48.0,477.76h2.2M379.1,477.76h-2.2M48.0,473.58h2.2M379.1,473.58h-2.2M48.0,470.34h2.2M379.1,470.34h-2.2M48.0,467.69h2.2M379.1,467.69h-2.2M48.0,465.45h2.2M379.1,465.45h-2.2M48.0,463.51h2.2M379.1,463.51h-2.2M48.0,461.80h2.2M379.1,461.80h-2.2M48.0,460.27h4M379.1,460.27h-4M48.0,450.20h2.2M379.1,450.20h-2.2M48.0,444.32h2.2M379.1,444.32h-2.2M48.0,440.14h2.2M379.1,440.14h-2.2M48.0,436.90h2.2M379.1,436.90h-2.2M48.0,434.25h2.2M379.1,434.25h-2.2M48.0,432.01h2.2M379.1,432.01h-2.2M48.0,430.07h2.2M379.1,430.07h-2.2M48.0,428.36h2.2M379.1,428.36h-2.2M48.0,426.83h4M379.1,426.83h-4M48.0,416.76h2.2M379.1,416.76h-2.2M48.0,410.87h2.2M379.1,410.87h-2.2M48.0,406.69h2.2M379.1,406.69h-2.2M48.0,403.45h2.2M379.1,403.45h-2.2M48.0,400.80h2.2M379.1,400.80h-2.2M48.0,398.57h2.2M379.1,398.57h-2.2M48.0,396.63h2.2M379.1,396.63h-2.2M48.0,394.92h2.2M379.1,394.92h-2.2M48.0,393.39h4M379.1,393.39h-4M48.0,383.32h2.2M379.1,383.32h-2.2M48.0,377.43h2.2M379.1,377.43h-2.2M48.0,373.25h2.2M379.1,373.25h-2.2M48.0,370.01h2.2M379.1,370.01h-2.2M48.0,367.36h2.2M379.1,367.36h-2.2M48.0,365.12h2.2M379.1,365.12h-2.2M48.0,363.18h2.2M379.1,363.18h-2.2M48.0,361.47h2.2M379.1,361.47h-2.2M48.0,359.94h4M379.1,359.94h-4M48.0,349.88h2.2M379.1,349.88h-2.2M48.0,343.99h2.2M379.1,343.99h-2.2M48.0,339.81h2.2M379.1,339.81h-2.2M48.0,336.57h2.2M379.1,336.57h-2.2M48.0,333.92h2.2M379.1,333.92h-2.2M48.0,331.68h2.2M379.1,331.68h-2.2M48.0,329.74h2.2M379.1,329.74h-2.2M48.0,328.03h2.2M379.1,328.03h-2.2M48.0,326.50h4M379.1,326.50h-4M48.00,560.6v-3M48.00,326.5v3M132.76,560.6v-3M132.76,326.5v3M182.34,560.6v-3M182.34,326.5v3M244.81,560.6v-3M244.81,326.5v3M285.95,560.6v-3M285.95,326.5v3M316.68,560.6v-3M316.68,326.5v3M341.22,560.6v-3M341.22,326.5v3M361.65,560.6v-3M361.65,326.5v3M379.15,560.6v-3M379.15,326.5v3" stroke="#3a3a3a" stroke-width="1" fill="none"/>
<rect x="48.0" y="326.5" width="331.15" height="234.10" fill="none" stroke="#3a3a3a" stroke-width="1.7"/>
<text x="25.25" y="330.5" font-size="10" fill="#222">10<tspan dx="0.3" dy="-6" font-size="7.1" letter-spacing="-0.6">2</tspan></text>
<text x="25.25" y="363.9" font-size="10" fill="#222">10<tspan dx="0.3" dy="-6" font-size="7.1" letter-spacing="-0.6">1</tspan></text>
<text x="25.25" y="397.4" font-size="10" fill="#222">10<tspan dx="0.3" dy="-6" font-size="7.1" letter-spacing="-0.6">0</tspan></text>
<text x="25.25" y="430.8" font-size="10" fill="#222">10<tspan dx="0.3" dy="-6" font-size="7.1" letter-spacing="-0.6">−1</tspan></text>
<text x="25.25" y="464.3" font-size="10" fill="#222">10<tspan dx="0.3" dy="-6" font-size="7.1" letter-spacing="-0.6">−2</tspan></text>
<text x="25.25" y="497.7" font-size="10" fill="#222">10<tspan dx="0.3" dy="-6" font-size="7.1" letter-spacing="-0.6">−3</tspan></text>
<text x="25.25" y="531.2" font-size="10" fill="#222">10<tspan dx="0.3" dy="-6" font-size="7.1" letter-spacing="-0.6">−4</tspan></text>
<text x="48.6" y="573.0" font-size="10" text-anchor="middle" fill="#222">0.1</text>
<text x="182.9" y="573.0" font-size="10" text-anchor="middle" fill="#222">0.3</text>
<text x="245.4" y="573.0" font-size="10" text-anchor="middle" fill="#222">0.5</text>
<text x="286.6" y="573.0" font-size="10" text-anchor="middle" fill="#222">0.7</text>
<text x="317.3" y="573.0" font-size="10" text-anchor="middle" fill="#222">0.9</text>
<text x="341.8" y="573.0" font-size="10" text-anchor="middle" fill="#222">1.1</text>
<text x="362.3" y="573.0" font-size="10" text-anchor="middle" fill="#222">1.3</text>
<text x="379.8" y="573.0" font-size="10" text-anchor="middle" fill="#222">1.5</text>
<text x="217.5" y="594.3" font-size="13.3" text-anchor="middle" fill="#111">kHz</text>
<text x="216.4" y="612.8" font-size="14" letter-spacing="0" text-anchor="middle" fill="#111" font-family="Liberation Serif, serif"><tspan font-weight="bold" font-size="16" letter-spacing="0" dy="-0.8">(b)</tspan><tspan dx="1.4" dy="0.8" stroke="#111" stroke-width="0.12"> Mic n.9</tspan></text>
<text transform="translate(15.8,453.9) rotate(-90)" font-size="13.2" fill="#111">Pa<tspan dx="-0.7" dy="-7.6" font-size="10.5">2</tspan></text>
<rect x="376.4" y="327.9" width="2.0" height="21.6" fill="#8a8a8a"/>
<rect x="344.6" y="328.4" width="31.9" height="20.7" fill="#fff" stroke="#3a3a3a" stroke-width="1.1"/>
<path d="M346.7,334.1H358.6" stroke="#1e9e1e" stroke-width="1.2"/>
<path d="M346.7,343.8H358.6" stroke="#ff1525" stroke-width="1.2"/>
<text x="359.7" y="337.7" font-size="8.6" fill="#111">MIC</text>
<text x="359.7" y="347.2" font-size="8.6" fill="#111">PIV</text>
<path d="M48.0,834.05H379.1M48.0,787.25H379.1M48.0,740.45H379.1M48.0,693.65H379.1M182.34,646.9V880.9M244.81,646.9V880.9M285.95,646.9V880.9M316.68,646.9V880.9M341.22,646.9V880.9M361.65,646.9V880.9" stroke="#c6c6c6" stroke-width="0.9" stroke-dasharray="0.9,1.1" fill="none"/>
<clipPath id="c2"><rect x="48.0" y="646.85" width="331.15" height="234.0"/></clipPath>
<path clip-path="url(#c2)" d="M48.6,749.6C48.9,751.3 49.9,757.6 50.6,760.0C51.3,762.4 52.3,765.1 52.9,763.8C53.5,762.5 53.8,756.2 54.4,752.2C55.0,748.2 55.8,738.3 56.4,740.0L58.1,762.5C58.7,764.0 59.6,750.1 60.2,749.0C60.8,747.9 61.0,753.1 61.5,756.1C62.0,759.1 62.6,768.7 63.1,767.0L64.5,745.8C65.0,740.9 65.2,737.7 65.8,737.4C66.4,737.1 67.3,743.0 68.0,743.8C68.7,744.5 69.6,741.3 70.2,741.9C70.8,742.5 71.2,745.1 71.8,747.1C72.3,749.1 73.0,753.8 73.5,754.1C74.0,754.4 74.5,748.2 75.1,749.0C75.7,749.8 76.4,760.2 77.0,758.7L78.9,740.0C79.6,738.2 80.2,746.2 80.9,747.7C81.6,749.2 82.2,748.1 82.8,749.0C83.4,749.9 83.8,753.1 84.3,752.9C84.8,752.7 85.4,747.1 86.0,747.7C86.6,748.3 87.4,754.1 88.0,756.7C88.6,759.3 89.0,762.7 89.5,763.2C90.0,763.8 90.3,761.8 90.8,760.0C91.3,758.2 92.0,752.5 92.5,752.2C93.0,751.9 93.5,757.9 94.1,758.0C94.7,758.1 95.3,752.6 95.9,752.9C96.5,753.2 97.2,761.4 97.9,760.0C98.6,758.6 99.5,746.5 100.1,744.5C100.7,742.5 101.0,747.6 101.4,747.7C101.8,747.8 102.0,743.9 102.4,745.1C102.8,746.3 103.3,751.5 104.0,754.8C104.7,758.1 105.6,766.1 106.3,765.1C107.0,764.1 107.6,751.4 108.2,749.0C108.8,746.6 109.4,749.3 109.9,750.9C110.4,752.5 110.8,758.3 111.2,758.7C111.6,759.1 112.0,753.5 112.5,753.5C113.0,753.5 113.4,758.8 114.0,758.7C114.6,758.6 115.3,752.9 116.0,752.9C116.7,752.9 117.2,757.1 117.9,758.7C118.6,760.3 119.6,763.5 120.2,762.5C120.8,761.5 121.2,755.8 121.8,752.9C122.4,750.0 123.1,747.0 123.7,745.1L125.6,741.3L126.9,779.9L128.5,756.1C129.0,750.6 129.2,745.8 129.8,747.1C130.4,748.4 131.1,762.3 131.8,763.8C132.5,765.3 133.2,759.3 134.0,756.1C134.8,752.9 135.8,745.6 136.6,744.5C137.3,743.4 137.8,745.3 138.5,749.6L140.8,770.3C141.6,771.8 142.5,760.0 143.0,758.7C143.5,757.4 143.5,764.4 144.0,762.5C144.5,760.6 145.4,748.4 145.9,747.1C146.4,745.8 146.7,755.3 147.2,754.8C147.7,754.2 148.4,743.8 148.9,743.8C149.4,743.8 149.8,752.5 150.4,754.8C151.0,757.1 151.8,755.5 152.4,757.4C153.0,759.3 153.5,767.1 154.1,766.4C154.7,765.6 155.3,754.2 155.9,752.9C156.5,751.6 157.0,758.6 157.5,758.7C158.0,758.8 158.3,753.5 158.8,753.5C159.3,753.5 160.0,755.7 160.5,758.7C161.0,761.7 161.3,772.6 162.0,771.5L164.6,752.2C165.4,750.5 166.1,759.1 166.6,761.2C167.1,763.4 167.3,767.0 167.8,765.1C168.3,763.2 168.9,750.0 169.5,749.6L171.1,762.5L173.4,801.2L174.9,753.5L176.2,775.4L177.8,756.7C178.3,753.8 178.8,758.9 179.4,758.0C180.0,757.1 180.9,751.3 181.4,751.6C181.9,751.9 182.2,757.5 182.7,760.0C183.2,762.5 183.7,768.0 184.2,766.4C184.7,764.8 185.3,750.5 185.9,750.3C186.5,750.1 187.0,765.1 187.6,765.1C188.2,765.1 188.8,750.6 189.4,750.3C190.0,750.0 190.6,762.5 191.0,763.2L192.0,754.8L193.3,780.6L194.3,747.7L195.6,774.1L197.2,770.3C197.8,768.6 198.5,765.7 199.1,763.8C199.7,761.9 200.3,757.4 200.8,758.7C201.3,760.0 201.7,770.6 202.3,771.5L204.2,763.8L206.4,737.4L208.1,757.4C208.7,758.7 209.5,745.6 210.0,745.1C210.5,744.6 210.9,754.0 211.3,754.1C211.7,754.2 212.1,743.8 212.6,745.8L214.2,766.4L215.2,747.7L216.7,770.9L218.4,735.5L219.7,748.4L221.4,769.6L222.9,747.1C223.4,742.2 223.7,738.3 224.2,740.0C224.7,741.7 225.3,757.0 225.8,757.4C226.3,757.8 226.8,743.5 227.4,742.6C228.0,741.7 228.8,752.4 229.4,752.2C230.1,752.0 230.7,741.1 231.3,741.3C231.9,741.5 232.5,755.1 233.0,753.5L234.3,731.6C234.8,727.1 235.5,723.4 236.0,726.7L237.1,751.3L239.2,722.5L240.8,752.4L241.9,721.4L242.9,700.0L243.9,648.5L244.9,700.0L246.2,731.0L247.2,748.1L248.0,734.2L249.4,762.0L250.0,746.5 L250.8,743.0 L251.3,744.6 L252.1,757.8 L252.7,734.7 L253.5,742.5 L254.1,753.7 L254.7,742.8 L255.5,748.8 L256.2,754.5 L256.9,745.5 L257.7,755.4 L258.4,760.6 L259.2,743.4 L259.8,750.3 L260.4,751.0 L261.0,748.4 L261.7,748.5 L262.4,757.3 L263.1,762.1 L263.6,763.3 L264.3,771.0 L264.9,765.9 L265.4,755.1 L266.1,750.5 L266.7,765.2 L267.4,765.7 L268.0,766.5 L268.6,751.9 L269.2,764.3 L269.8,767.7 L270.5,765.7 L271.2,765.8 L271.9,760.3 L272.4,761.5 L272.9,769.1 L273.5,774.0 L274.0,768.3 L274.6,770.0 L275.1,775.7 L275.7,758.7 L276.3,769.4 L276.8,780.8 L277.5,781.0 L278.0,779.6 L278.6,785.3 L279.1,770.0 L279.7,780.6 L280.3,772.1 L280.9,759.5 L281.3,778.2 L281.9,787.8 L282.4,776.4 L283.0,780.1 L283.6,780.7 L284.1,778.0 L284.7,775.1 L285.2,781.2 L285.8,776.7 L286.3,776.9 L286.9,770.2 L287.4,773.7 L288.0,771.1 L288.5,776.4 L289.0,760.0 L289.5,773.7 L290.0,769.8 L290.4,787.0 L291.0,779.9 L291.6,792.0 L292.1,793.8 L292.5,778.2 L293.1,781.4 L293.5,781.9 L294.0,803.8 L294.5,781.8 L295.0,773.6 L295.5,764.8 L295.9,793.9 L296.4,789.1 L296.9,774.5 L297.4,786.2 L297.8,780.0 L298.3,772.6 L298.9,780.1 L299.3,764.3 L299.8,788.4 L300.3,789.7 L300.8,782.8 L301.2,789.1 L301.6,771.3 L302.0,786.5 L302.5,786.3 L302.8,779.8 L303.3,784.1 L303.6,774.5 L304.1,775.5 L304.5,783.5 L305.0,777.2 L305.5,796.9 L306.0,771.4 L306.4,773.4 L306.9,782.3 L307.4,792.8 L307.9,789.1 L308.4,782.3 L308.9,773.8 L309.4,784.8 L309.8,787.0 L310.3,791.2 L310.7,794.9 L311.1,774.7 L311.5,793.5 L312.0,795.0 L312.4,774.8 L312.7,796.1 L313.2,782.4 L313.7,788.1 L314.1,784.9 L314.4,786.4 L314.8,784.9 L315.2,781.1 L315.6,787.6 L316.0,785.7 L316.5,781.1 L316.9,789.0 L317.3,773.3 L317.7,790.2 L318.0,767.5 L318.3,777.5 L318.8,797.5 L319.2,794.5 L319.4,765.3 L319.5,776.7 L319.9,785.5 L320.4,792.7 L320.8,782.5 L321.2,786.7 L321.5,784.2 L321.6,770.5 L322.0,781.5 L322.4,785.4 L322.8,775.3 L323.2,787.3 L323.6,803.7 L324.0,782.7 L324.4,791.2 L324.8,794.6 L325.1,779.9 L325.4,776.9 L325.8,767.5 L325.9,783.4 L326.2,783.5 L326.5,790.0 L327.2,770.0 L328.0,753.3 L328.7,762.0 L329.5,773.5 L330.2,790.0 L331.0,807.0 L331.5,773.2 L331.8,797.9 L332.1,787.5 L332.5,789.6 L332.9,797.9 L333.3,799.4 L333.6,788.3 L334.0,778.8 L334.4,784.1 L334.8,794.3 L335.2,792.1 L335.5,783.3 L335.8,793.9 L336.2,791.9 L336.6,784.1 L336.9,785.4 L337.2,787.2 L337.6,784.8 L338.0,794.1 L338.3,799.5 L338.6,796.5 L338.9,799.3 L339.3,801.5 L339.7,792.3 L340.0,789.3 L340.3,791.6 L340.6,785.3 L341.0,795.7 L341.3,782.6 L341.6,794.8 L341.9,786.0 L342.2,807.5 L342.6,799.4 L342.9,789.8 L343.3,784.1 L343.5,798.3 L343.8,781.6 L344.1,772.1 L344.4,782.3 L344.8,787.6 L345.1,791.5 L345.4,815.5 L345.7,798.2 L346.1,786.3 L346.4,799.0 L346.7,793.6 L347.0,795.7 L347.3,793.2 L347.7,784.9 L348.0,795.6 L348.3,797.9 L348.7,800.3 L349.0,806.6 L349.2,800.4 L349.5,807.9 L349.8,797.3 L350.1,789.6 L350.5,804.8 L350.8,797.7 L351.1,802.5 L351.5,795.0 L351.8,788.0 L352.0,795.2 L352.4,792.2 L352.6,793.7 L353.0,795.1 L353.2,797.3 L353.5,785.2 L353.9,791.8 L354.2,805.8 L354.5,799.1 L354.8,803.0 L355.1,796.3 L355.4,802.0 L355.7,802.8 L356.0,806.9 L356.2,807.8 L356.5,798.3 L356.8,811.2 L357.0,783.2 L357.3,803.7 L357.6,795.1 L358.0,815.5 L358.3,790.3 L358.6,807.6 L358.9,804.8 L359.3,790.1 L359.5,796.1 L359.9,801.2 L360.2,812.7 L360.4,792.2 L360.7,802.9 L360.9,790.6 L361.2,795.9 L361.5,801.5 L361.8,785.4 L362.1,798.0 L362.4,809.9 L362.7,799.9 L362.9,796.0 L363.2,801.4 L363.5,823.3 L363.8,813.3 L364.1,801.9 L364.4,797.8 L364.7,814.1 L364.9,803.3 L365.2,803.3 L365.5,802.4 L365.8,813.1 L366.1,814.8 L366.3,826.8 L366.7,791.3 L366.9,808.7 L367.2,786.9 L367.5,810.3 L367.8,817.1 L368.1,820.5 L368.3,799.0 L368.6,797.4 L368.8,801.5 L369.1,831.2 L369.4,805.0 L369.6,806.1 L369.9,821.0 L370.1,798.5 L370.3,815.9 L370.6,824.9 L370.9,804.4 L371.1,809.5 L371.4,811.0 L371.7,801.5 L371.9,814.4 L372.2,794.5 L372.4,802.0 L372.7,817.5 L372.9,815.1 L373.2,807.4 L373.5,805.8 L373.7,801.5 L374.0,832.3 L374.2,809.2 L374.5,813.4 L374.7,809.7 L375.0,797.9 L375.3,808.0 L375.5,805.6 L375.8,808.9 L376.0,805.5 L376.3,817.2 L376.5,819.5 L376.7,826.0 L377.0,814.8 L377.2,802.8 L377.5,807.6 L377.7,797.9 L377.9,806.9 L378.1,798.8 L378.4,810.0 L378.6,802.0 L378.8,806.7" stroke="#1e9e1e" stroke-width="1.08" fill="none" stroke-linejoin="round"/>
<path clip-path="url(#c2)" d="M48.6,757.4C49.0,756.5 50.1,752.4 50.8,752.2C51.5,752.0 52.2,754.7 52.9,756.1C53.5,757.5 54.1,760.9 54.7,760.6C55.3,760.3 55.8,755.6 56.4,754.1C57.0,752.6 57.7,751.1 58.3,751.6C58.9,752.1 59.6,756.2 60.2,757.4C60.8,758.6 61.2,759.8 61.9,758.7C62.5,757.6 63.4,753.3 64.1,750.9C64.8,748.5 65.3,744.3 66.0,744.5C66.7,744.7 67.6,749.4 68.4,752.2C69.2,755.0 70.1,760.3 70.9,761.2C71.7,762.1 72.4,760.2 73.1,757.4C73.8,754.6 74.6,745.8 75.3,744.5C76.0,743.2 76.4,746.8 77.0,749.6C77.6,752.4 78.2,757.1 78.9,761.2C79.7,765.3 80.8,773.5 81.5,774.1C82.2,774.8 82.8,767.2 83.4,765.1C84.1,763.0 84.8,760.8 85.4,761.2C86.1,761.6 86.7,767.5 87.3,767.7C87.9,767.9 88.5,764.2 89.2,762.5C89.9,760.8 90.5,756.9 91.2,757.4C91.9,757.9 92.6,764.7 93.4,765.7C94.2,766.7 95.2,762.9 95.9,763.2C96.7,763.5 97.2,765.1 97.9,767.7C98.6,770.3 99.4,778.4 100.1,778.6C100.8,778.8 101.5,773.2 102.2,769.0C102.9,764.8 103.7,754.4 104.4,753.5C105.1,752.6 105.7,761.2 106.3,763.8C106.9,766.4 107.3,768.9 107.9,769.0C108.5,769.1 109.2,763.9 109.9,764.5C110.6,765.1 111.4,772.5 112.1,772.8C112.8,773.1 113.3,768.5 114.0,766.4C114.7,764.3 115.3,759.5 116.0,760.0C116.7,760.5 117.6,768.2 118.2,769.6C118.8,771.0 119.0,766.9 119.8,768.3C120.6,769.7 121.9,778.0 122.8,778.0C123.7,778.0 124.2,772.7 125.0,768.3C125.8,763.9 126.9,752.5 127.6,751.6C128.3,750.8 128.7,759.5 129.2,763.2C129.7,767.0 130.0,773.0 130.5,774.1C131.0,775.2 131.6,768.6 132.1,769.6C132.6,770.6 133.0,780.2 133.6,779.9C134.2,779.6 135.0,769.1 135.7,767.7C136.4,766.3 137.1,769.0 137.9,771.5C138.7,774.0 139.8,784.2 140.5,782.5L142.4,761.2C143.0,757.0 143.4,757.4 144.0,757.4C144.6,757.4 145.2,757.6 145.9,761.2L148.5,779.3L150.4,754.8C151.0,751.4 151.4,756.0 152.0,758.7C152.6,761.4 153.1,769.1 153.7,770.9C154.2,772.7 154.8,769.5 155.3,769.6C155.8,769.7 156.3,768.4 156.9,771.5C157.5,774.6 158.2,788.0 158.8,788.0C159.4,788.0 160.0,775.8 160.5,771.5C161.0,767.2 161.5,763.6 162.0,762.5C162.5,761.4 162.8,762.7 163.3,765.1C163.8,767.5 164.4,776.9 164.9,776.7C165.4,776.5 166.1,763.3 166.6,763.8C167.1,764.3 167.7,779.7 168.2,779.9C168.7,780.1 169.3,766.3 169.8,765.1C170.3,763.9 170.8,774.1 171.3,772.8C171.8,771.5 172.0,758.4 172.6,757.4C173.2,756.4 174.0,764.6 174.7,767.0C175.4,769.4 176.3,772.7 176.9,771.5C177.5,770.3 178.0,762.4 178.5,760.0C179.0,757.6 179.5,757.0 180.1,757.4C180.7,757.8 181.3,760.1 182.0,762.5C182.7,764.9 183.3,770.8 184.0,771.5C184.7,772.2 185.2,767.0 185.9,767.0C186.6,767.0 187.5,768.3 188.1,771.5C188.7,774.7 189.1,785.4 189.7,786.0C190.3,786.6 191.3,778.7 191.7,775.4C192.1,772.1 191.7,769.2 192.0,766.4C192.3,763.6 192.9,757.6 193.5,758.7C194.1,759.8 195.0,770.8 195.6,772.8C196.2,774.8 196.7,772.8 197.2,770.9C197.7,769.0 197.9,759.6 198.4,761.2L200.0,780.6C200.6,781.7 201.3,766.5 201.7,767.7L202.6,787.7L204.2,769.0C204.7,765.1 205.1,763.6 205.5,764.5C205.9,765.4 206.2,775.1 206.8,774.1C207.5,773.1 208.7,760.2 209.4,758.7C210.1,757.2 210.6,764.9 211.1,765.1C211.6,765.3 212.0,758.1 212.6,760.0C213.2,761.9 213.9,776.0 214.6,776.7C215.2,777.5 215.9,766.5 216.5,764.5C217.1,762.5 217.7,761.4 218.4,764.5L221.0,783.1C221.8,784.7 222.4,773.3 222.9,774.1L224.2,787.7L226.5,745.1L228.3,757.4L230.4,781.2C231.0,782.9 231.4,769.7 232.0,767.7L233.9,769.0L236.0,737.4L238.1,759.9L240.3,766.3L241.6,740.0L242.8,700.0L243.9,668.2L244.9,700.0L245.8,735.0L246.2,744.9C246.3,749.4 246.4,760.6 246.7,762.0C247.0,763.4 247.4,756.4 247.8,753.5C248.2,750.6 248.7,743.5 249.0,744.9C249.3,746.3 249.8,759.1 249.9,762.0L250.0,758.6 L251.1,758.8 L252.1,768.2 L253.0,768.0 L254.1,762.1 L254.8,795.2 L255.3,785.6 L255.9,779.8 L256.6,745.2 L257.7,789.9 L258.4,773.9 L259.1,762.1 L260.1,794.2 L260.6,788.8 L261.0,758.6 L261.7,767.3 L262.5,752.7 L263.2,791.7 L264.2,762.6 L264.8,780.7 L265.5,773.4 L266.2,804.1 L266.8,794.1 L267.1,786.3 L268.0,773.6 L268.8,771.3 L269.7,778.2 L270.6,767.7 L271.4,779.2 L272.1,781.4 L272.9,779.2 L273.8,771.8 L274.6,795.2 L275.3,783.4 L276.1,786.6 L276.8,782.8 L277.6,772.4 L278.5,798.6 L279.1,785.3 L279.9,776.3 L280.5,771.3 L281.4,786.7 L282.1,781.3 L282.6,784.4 L283.2,777.5 L284.1,763.9 L284.8,781.9 L285.6,790.4 L286.2,782.1 L287.0,782.7 L287.7,788.6 L288.5,800.5 L289.3,778.4 L289.8,780.5 L290.5,768.0 L291.2,787.1 L291.8,787.4 L292.4,786.2 L293.2,796.8 L293.8,789.0 L294.5,791.5 L295.1,784.8 L295.9,777.2 L296.6,784.6 L296.8,809.7 L297.2,784.5 L297.8,799.5 L298.5,793.9 L299.0,791.1 L299.6,784.9 L300.1,791.9 L300.8,780.9 L301.5,791.4 L302.1,782.7 L302.8,785.5 L303.4,777.0 L303.9,781.5 L304.5,785.3 L305.1,782.4 L305.8,778.8 L306.2,782.5 L306.9,783.1 L307.5,789.8 L308.1,786.4 L308.8,791.0 L309.4,789.5 L309.9,779.8 L310.4,790.4 L310.9,773.1 L311.6,782.4 L312.1,795.8 L312.6,795.4 L313.2,785.2 L313.7,782.8 L314.1,788.4 L314.7,785.0 L315.2,788.0 L315.6,783.8 L316.2,784.6 L316.7,789.9 L317.2,781.9 L317.8,792.0 L318.3,777.5 L319.0,792.5 L319.6,798.8 L320.0,785.3 L320.6,788.6 L321.0,795.5 L321.6,793.2 L322.2,791.5 L322.7,808.5 L323.1,792.5 L323.5,790.5 L324.0,793.9 L324.5,811.7 L325.1,795.1 L325.6,786.5 L326.1,794.8 L326.6,795.0 L327.2,787.0 L328.8,757.8 L329.5,790.0 L330.2,802.8 L330.7,814.7 L331.2,787.7 L331.7,787.9 L332.2,791.2 L332.7,808.8 L333.2,797.8 L333.6,789.6 L334.1,801.5 L334.5,793.9 L335.1,796.5 L335.5,799.9 L336.0,790.4 L336.4,798.8 L336.8,788.7 L337.3,808.5 L337.8,790.8 L338.4,802.4 L338.8,796.6 L339.2,794.3 L339.7,797.5 L340.2,794.9 L340.7,783.7 L341.1,789.3 L341.5,801.1 L342.0,817.6 L342.5,802.2 L343.0,794.6 L343.4,804.2 L343.8,796.6 L344.2,795.7 L344.6,817.4 L345.1,799.8 L345.4,813.4 L345.9,785.5 L346.4,812.4 L346.8,796.4 L347.2,800.9 L347.6,796.1 L348.0,799.5 L348.5,811.0 L348.9,798.7 L349.2,806.7 L349.6,796.0 L350.1,808.0 L350.5,802.1 L350.9,815.6 L351.3,819.6 L351.8,803.6 L352.3,794.8 L352.7,786.0 L353.0,807.7 L353.5,795.7 L353.9,826.1 L354.2,815.1 L354.5,807.6 L354.9,832.5 L355.3,815.8 L355.7,810.1 L356.1,793.1 L356.4,821.7 L356.9,808.3 L357.3,811.5 L357.7,796.7 L358.0,799.8 L358.4,817.4 L358.8,801.5 L359.1,810.2 L359.4,791.4 L359.9,804.4 L360.2,817.0 L360.6,791.3 L360.9,800.7 L361.3,800.3 L361.7,808.0 L362.1,813.2 L362.5,810.9 L362.9,821.2 L363.2,798.8 L363.6,814.0 L363.9,793.0 L364.3,803.7 L364.7,820.5 L365.0,812.3 L365.4,808.4 L365.8,806.2 L366.1,801.9 L366.4,813.5 L366.7,815.0 L367.0,809.8 L367.4,823.5 L367.8,811.1 L368.1,822.3 L368.5,813.7 L368.9,816.1 L369.3,818.5 L369.6,811.4 L369.9,814.4 L370.3,807.9 L370.5,801.0 L370.8,804.1 L371.2,825.4 L371.5,799.3 L371.9,820.5 L372.2,804.6 L372.6,801.8 L372.9,799.4 L373.3,805.0 L373.6,816.3 L374.0,811.3 L374.2,834.4 L374.6,820.1 L374.9,812.0 L375.3,814.7 L375.6,802.5 L375.9,807.2 L376.2,815.6 L376.5,817.0 L376.9,812.4 L377.1,803.4 L377.4,853.7 L377.4,817.9 L377.8,791.2 L378.1,806.5 L378.5,815.4 L378.8,807.6" stroke="#ff1525" stroke-width="1.08" fill="none" stroke-linejoin="round"/>
<path d="M48.0,880.85h4M379.1,880.85h-4M48.0,866.76h2.2M379.1,866.76h-2.2M48.0,858.52h2.2M379.1,858.52h-2.2M48.0,852.67h2.2M379.1,852.67h-2.2M48.0,848.14h2.2M379.1,848.14h-2.2M48.0,844.43h2.2M379.1,844.43h-2.2M48.0,841.30h2.2M379.1,841.30h-2.2M48.0,838.59h2.2M379.1,838.59h-2.2M48.0,836.19h2.2M379.1,836.19h-2.2M48.0,834.05h4M379.1,834.05h-4M48.0,819.96h2.2M379.1,819.96h-2.2M48.0,811.72h2.2M379.1,811.72h-2.2M48.0,805.87h2.2M379.1,805.87h-2.2M48.0,801.34h2.2M379.1,801.34h-2.2M48.0,797.63h2.2M379.1,797.63h-2.2M48.0,794.50h2.2M379.1,794.50h-2.2M48.0,791.79h2.2M379.1,791.79h-2.2M48.0,789.39h2.2M379.1,789.39h-2.2M48.0,787.25h4M379.1,787.25h-4M48.0,773.16h2.2M379.1,773.16h-2.2M48.0,764.92h2.2M379.1,764.92h-2.2M48.0,759.07h2.2M379.1,759.07h-2.2M48.0,754.54h2.2M379.1,754.54h-2.2M48.0,750.83h2.2M379.1,750.83h-2.2M48.0,747.70h2.2M379.1,747.70h-2.2M48.0,744.99h2.2M379.1,744.99h-2.2M48.0,742.59h2.2M379.1,742.59h-2.2M48.0,740.45h4M379.1,740.45h-4M48.0,726.36h2.2M379.1,726.36h-2.2M48.0,718.12h2.2M379.1,718.12h-2.2M48.0,712.27h2.2M379.1,712.27h-2.2M48.0,707.74h2.2M379.1,707.74h-2.2M48.0,704.03h2.2M379.1,704.03h-2.2M48.0,700.90h2.2M379.1,700.90h-2.2M48.0,698.19h2.2M379.1,698.19h-2.2M48.0,695.79h2.2M379.1,695.79h-2.2M48.0,693.65h4M379.1,693.65h-4M48.0,679.56h2.2M379.1,679.56h-2.2M48.0,671.32h2.2M379.1,671.32h-2.2M48.0,665.47h2.2M379.1,665.47h-2.2M48.0,660.94h2.2M379.1,660.94h-2.2M48.0,657.23h2.2M379.1,657.23h-2.2M48.0,654.10h2.2M379.1,654.10h-2.2M48.0,651.39h2.2M379.1,651.39h-2.2M48.0,648.99h2.2M379.1,648.99h-2.2M48.0,646.85h4M379.1,646.85h-4M48.00,880.9v-3M48.00,646.9v3M132.76,880.9v-3M132.76,646.9v3M182.34,880.9v-3M182.34,646.9v3M244.81,880.9v-3M244.81,646.9v3M285.95,880.9v-3M285.95,646.9v3M316.68,880.9v-3M316.68,646.9v3M341.22,880.9v-3M341.22,646.9v3M361.65,880.9v-3M361.65,646.9v3M379.15,880.9v-3M379.15,646.9v3" stroke="#3a3a3a" stroke-width="1" fill="none"/>
<rect x="48.0" y="646.85" width="331.15" height="234.00" fill="none" stroke="#3a3a3a" stroke-width="1.7"/>
<text x="25.25" y="650.9" font-size="10" fill="#222">10<tspan dx="0.3" dy="-6" font-size="7.1" letter-spacing="-0.6">2</tspan></text>
<text x="25.25" y="697.6" font-size="10" fill="#222">10<tspan dx="0.3" dy="-6" font-size="7.1" letter-spacing="-0.6">1</tspan></text>
<text x="25.25" y="744.5" font-size="10" fill="#222">10<tspan dx="0.3" dy="-6" font-size="7.1" letter-spacing="-0.6">0</tspan></text>
<text x="25.25" y="791.2" font-size="10" fill="#222">10<tspan dx="0.3" dy="-6" font-size="7.1" letter-spacing="-0.6">−1</tspan></text>
<text x="25.25" y="838.0" font-size="10" fill="#222">10<tspan dx="0.3" dy="-6" font-size="7.1" letter-spacing="-0.6">−2</tspan></text>
<text x="25.25" y="884.9" font-size="10" fill="#222">10<tspan dx="0.3" dy="-6" font-size="7.1" letter-spacing="-0.6">−3</tspan></text>
<text x="48.6" y="893.2" font-size="10" text-anchor="middle" fill="#222">0.1</text>
<text x="182.9" y="893.2" font-size="10" text-anchor="middle" fill="#222">0.3</text>
<text x="245.4" y="893.2" font-size="10" text-anchor="middle" fill="#222">0.5</text>
<text x="286.6" y="893.2" font-size="10" text-anchor="middle" fill="#222">0.7</text>
<text x="317.3" y="893.2" font-size="10" text-anchor="middle" fill="#222">0.9</text>
<text x="341.8" y="893.2" font-size="10" text-anchor="middle" fill="#222">1.1</text>
<text x="362.3" y="893.2" font-size="10" text-anchor="middle" fill="#222">1.3</text>
<text x="379.8" y="893.2" font-size="10" text-anchor="middle" fill="#222">1.5</text>
<text x="217.5" y="910.8" font-size="13.3" text-anchor="middle" fill="#111">kHz</text>
<text x="216.4" y="931.1" font-size="14" letter-spacing="0" text-anchor="middle" fill="#111" font-family="Liberation Serif, serif"><tspan font-weight="bold" font-size="16" letter-spacing="0" dy="-0.8">(c)</tspan><tspan dx="1.4" dy="0.8" stroke="#111" stroke-width="0.12"> Mic n.11</tspan></text>
<text transform="translate(15.8,773.6) rotate(-90)" font-size="13.2" fill="#111">Pa<tspan dx="-0.7" dy="-7.6" font-size="10.5">2</tspan></text>
<rect x="376.4" y="648.2" width="2.0" height="21.6" fill="#8a8a8a"/>
<rect x="344.6" y="648.8" width="31.9" height="20.7" fill="#fff" stroke="#3a3a3a" stroke-width="1.1"/>
<path d="M346.7,654.5H358.6" stroke="#1e9e1e" stroke-width="1.2"/>
<path d="M346.7,664.1H358.6" stroke="#ff1525" stroke-width="1.2"/>
<text x="359.7" y="658.0" font-size="8.6" fill="#111">MIC</text>
<text x="359.7" y="667.5" font-size="8.6" fill="#111">PIV</text>
<path d="M266.9,56.2L249.0,65.2" stroke="#111" stroke-width="1.05"/><path d="M244.5,67.5L248.3,63.9L249.7,66.6Z" fill="#111"/>
<text x="269.4" y="59.9" font-size="8.5" fill="#111">496 Hz</text>
<path d="M343.2,96.2L332.8,106.0" stroke="#111" stroke-width="1.05"/><path d="M329.1,109.4L331.7,104.9L333.8,107.1Z" fill="#111"/>
<text x="345.8" y="95.3" font-size="8.5" fill="#111">992 Hz</text>
<path d="M267.9,348.0L249.8,356.2" stroke="#111" stroke-width="1.05"/><path d="M245.3,358.3L249.2,354.8L250.5,357.6Z" fill="#111"/>
<text x="269.7" y="351.7" font-size="8.5" fill="#111">496 Hz</text>
<path d="M342.5,394.5L332.0,407.7" stroke="#111" stroke-width="1.05"/><path d="M328.9,411.6L330.8,406.7L333.2,408.7Z" fill="#111"/>
<text x="344.3" y="392.8" font-size="8.5" fill="#111">992 Hz</text>
<path d="M258.9,660.7L248.2,651.4" stroke="#111" stroke-width="1.05"/><path d="M244.4,648.1L249.2,650.2L247.2,652.5Z" fill="#111"/>
<text x="261.0" y="669.5" font-size="8.5" fill="#111">496 Hz</text>
<path d="M343.2,766.2L332.9,757.4" stroke="#111" stroke-width="1.05"/><path d="M329.1,754.1L333.9,756.2L331.9,758.5Z" fill="#111"/>
<text x="346.2" y="773.8" font-size="8.5" fill="#111">992 Hz</text>
</svg>
</body></html>
